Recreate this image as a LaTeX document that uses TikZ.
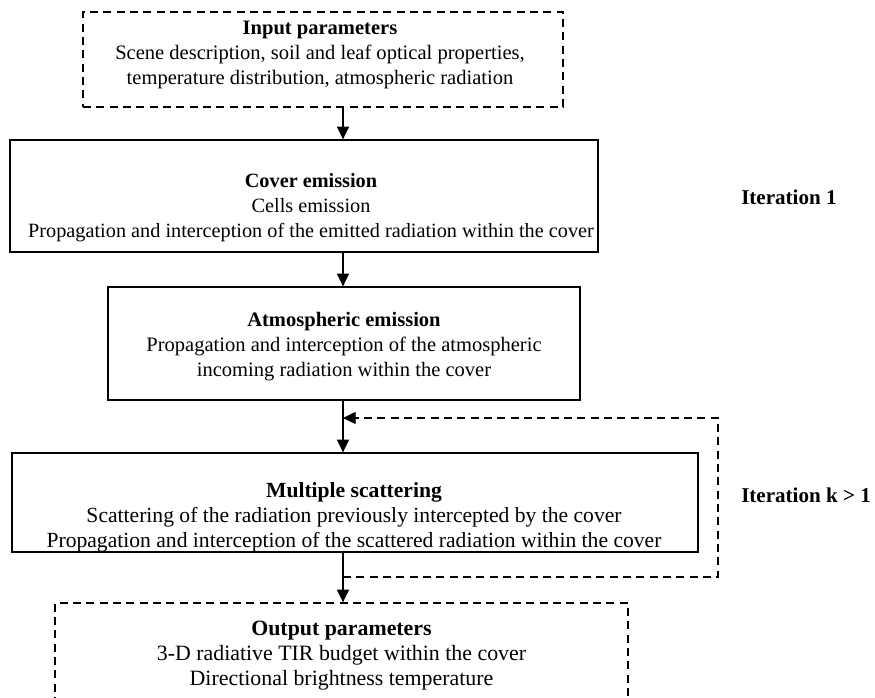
\documentclass[tikz,border=0pt]{standalone}
\usepackage{fontspec}
\setmainfont{Liberation Serif}
\usetikzlibrary{arrows.meta}

\tikzset{
  stagebox/.style={draw, line width=1pt, inner sep=0pt},
  parambox/.style={stagebox, dash pattern=on 6pt off 4pt},
  stagetext/.style={align=center, inner sep=0pt, font=\fontsize{#1}{18.75}\selectfont},
  stagetext/.default=15.4,
  flow/.style={line width=1pt, -{Triangle[width=9pt,length=9.5pt]}},
  loopline/.style={flow, dash pattern=on 6pt off 4pt},
  iterlabel/.style={anchor=west, inner sep=0pt, font=\fontsize{15.8}{18.75}\selectfont\bfseries}
}

\begin{document}
\begin{tikzpicture}[x=0.75pt, y=-0.75pt] % one unit = one pixel of the sketch
        \clip (0,0) rectangle (875,698);
        \coordinate (axis) at (343,0);
        % Input
        \node[parambox, minimum width=360pt, minimum height=71.25pt] (input) at (323,59.5) {};
        \node[stagetext] (inputtext) at (320,54.5)
          {\textbf{Input parameters}\\Scene description, soil and leaf optical properties,\\temperature distribution, atmospheric radiation};
        % Iteration 1
        \node[stagebox, minimum width=441pt, minimum height=84pt] (cover) at (304,196) {};
        \node[stagetext=15.2] (covertext) at (311,207.5)
          {\textbf{Cover emission}\\Cells emission\\Propagation and interception of the emitted radiation within the cover};
        \node[stagebox, minimum width=354pt, minimum height=84.75pt] (atmos) at (344,343.5) {};
        \node[stagetext] (atmostext) at (344,346.5)
          {\textbf{Atmospheric emission}\\Propagation and interception of the atmospheric\\incoming radiation within the cover};
        % Iteration k > 1
        \node[stagebox, minimum width=514.5pt, minimum height=74.25pt] (multi) at (355,502.5) {};
        \node[stagetext=16.2] (multitext) at (354,517.5)
          {\textbf{Multiple scattering}\\Scattering of the radiation previously intercepted by the cover\\Propagation and interception of the scattered radiation within the cover};
        % Output
        \node[parambox, minimum width=429.75pt, minimum height=90pt] (output) at (341.5,663) {};
        \node[stagetext=16.4] (outputtext) at (341.5,655.5)
          {\textbf{Output parameters}\\3-D radiative TIR budget within the cover\\Directional brightness temperature};
        \node[iterlabel] (iter1) at (741,197) {Iteration 1};
        \node[iterlabel] (iterk) at (741,495) {Iteration k > 1};
        % Arrows
        \draw[flow] (input.south -| axis) -- (cover.north -| axis);
        \draw[flow] (cover.south -| axis) -- (atmos.north -| axis);
        \draw[flow] (atmos.south -| axis) -- (multi.north -| axis);
        \draw[flow] (multi.south -| axis) -- (output.north -| axis);
        % Loop back
        \coordinate (loopstart) at (343,577);
        \coordinate (loopturn) at (718,418);
        \coordinate (loopend) at (343,418);
        \draw[loopline] (loopstart) -| (loopturn) -- (loopend);
\end{tikzpicture}
\end{document}
